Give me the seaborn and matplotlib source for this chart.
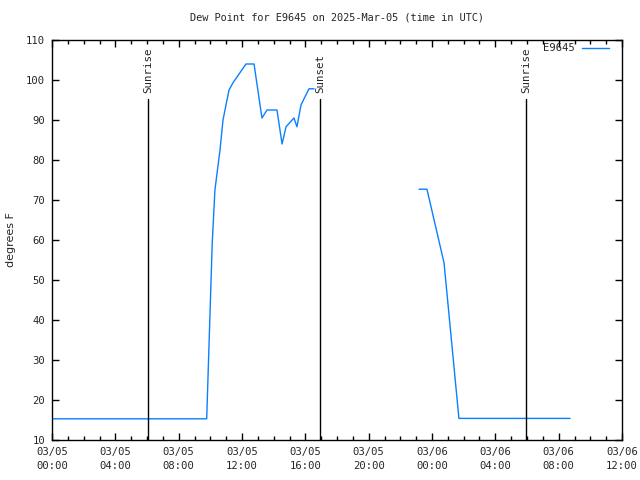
import numpy as np
import pandas as pd
import matplotlib
matplotlib.use("Agg")
import matplotlib.pyplot as plt
import seaborn as sns

# Data (hours since 03/05 00:00 UTC, dew point degF)
hours_day = [0.0, 9.77, 10.12, 10.29, 10.61, 10.80, 11.18, 11.43, 12.25, 12.76,
             13.26, 13.58, 14.21, 14.53, 14.78, 15.28, 15.47, 15.73, 16.23, 16.55]
dew_day = [15.3, 15.3, 59.3, 72.5, 82.5, 90.0, 97.5, 99.3, 104.0, 104.0,
           90.5, 92.5, 92.5, 84.0, 88.3, 90.5, 88.3, 93.8, 97.8, 97.8]
hours_night = [23.18, 23.68, 24.76, 25.70, 32.72]
dew_night = [72.7, 72.7, 54.3, 15.4, 15.4]

sun_events = ["Sunrise", "Sunset", "Sunrise"]
sun_hours = [6.06, 16.93, 29.94]
sun_top = 95.3

tick_hours = list(range(0, 37, 4))
tick_labels = ["03/05\n00:00", "03/05\n04:00", "03/05\n08:00", "03/05\n12:00",
               "03/05\n16:00", "03/05\n20:00", "03/06\n00:00", "03/06\n04:00",
               "03/06\n08:00", "03/06\n12:00"]
y_ticks = list(range(10, 111, 10))

title = "Dew Point for E9645 on 2025-Mar-05 (time in UTC)"
series_name = "E9645"

sns.set_style("white")
plt.rcParams['font.family'] = ['DejaVu Sans Mono', 'DejaVu Sans']

fig = plt.figure(figsize=(6.4, 4.8), dpi=100)
ax = fig.add_axes([52/640, 1 - 440/480, 570/640, 400/480])

line_color = "#0a80ff"
df1 = pd.DataFrame({"h": hours_day, "v": dew_day})
df2 = pd.DataFrame({"h": hours_night, "v": dew_night})
sns.lineplot(data=df1, x="h", y="v", ax=ax, color=line_color, lw=1.0, label=series_name, estimator=None)
sns.lineplot(data=df2, x="h", y="v", ax=ax, color=line_color, lw=1.0, estimator=None)

for name, h in zip(sun_events, sun_hours):
    ax.plot([h, h], [10, sun_top], color="black", lw=1.0)
    ax.text(h, sun_top + 1.5, name, rotation=90, ha="center", va="bottom", fontsize=7.8)

ax.set_xlim(0, 36)
ax.set_ylim(10, 110)
ax.set_xticks(tick_hours)
ax.set_xticklabels(tick_labels, fontsize=7.6, linespacing=1.55)
ax.set_xticks(list(range(0, 37)), minor=True)
ax.set_yticks(y_ticks)
ax.set_yticklabels([str(v) for v in y_ticks], fontsize=7.6)
ax.tick_params(axis="x", which="major", direction="in", length=5, width=1,
               top=True, bottom=True, color="black", pad=5)
ax.tick_params(axis="y", which="major", direction="in", length=5, width=1,
               left=True, right=True, color="black", pad=5)
ax.tick_params(axis="x", which="minor", direction="in", length=3, width=1,
               top=True, bottom=True, color="black")
for s in ax.spines.values():
    s.set_color("black")
    s.set_linewidth(1)
    s.set_visible(True)

ax.set_xlabel("")
ax.set_ylabel("degrees F", fontsize=8, family="DejaVu Sans")
ax.yaxis.set_label_coords(-0.063, 0.5)
ax.set_title(title, fontsize=7.4, pad=14)

leg = ax.legend(loc="upper right", bbox_to_anchor=(0.978, 0.992), frameon=False,
                markerfirst=False, fontsize=7.6, handlelength=2.6,
                borderaxespad=0.0, handletextpad=0.7, borderpad=0.0)

fig.savefig("out.png", dpi=100)
